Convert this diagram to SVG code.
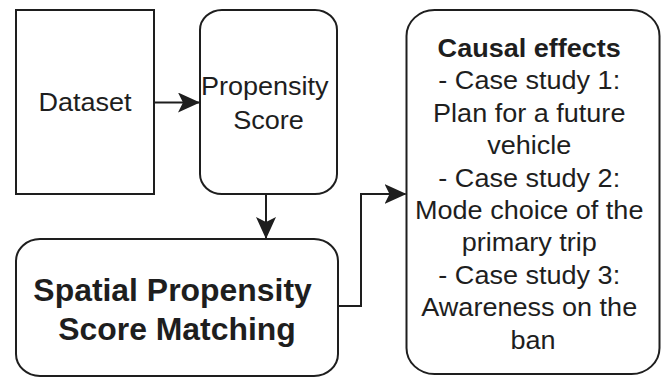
<svg xmlns="http://www.w3.org/2000/svg" width="665" height="378" viewBox="0 0 665 378">
  <style>
    .box { fill: #ffffff; stroke: #1e1e1e; stroke-width: 2; }
    .lbl { font-family: "Liberation Sans", Arial, sans-serif; font-size: 26px; fill: #1e1e1e; text-anchor: middle; }
    .bold { font-weight: bold; }
    .big { font-size: 31px; }
    .edge { fill: none; stroke: #1e1e1e; stroke-width: 2; }
  </style>
  <defs>
    <marker id="arrow" viewBox="0 0 22 20" refX="21" refY="10" markerWidth="22" markerHeight="20" markerUnits="userSpaceOnUse" orient="auto">
      <path d="M0,0 L22,10 L0,20 L5,10 Z" fill="#1e1e1e"/>
    </marker>
  </defs>
  <rect width="665" height="378" fill="#ffffff"/>

  <g id="dataset">
    <rect class="box" x="16" y="10" width="138" height="184"/>
    <text class="lbl" transform="translate(85 111) scale(1.04 1)">Dataset</text>
  </g>

  <g id="propensity-score">
    <rect class="box" x="200" y="10" width="137" height="184" rx="22" ry="20"/>
    <text class="lbl" transform="translate(268.5 95) scale(1.04 1)">
      <tspan x="0" y="0">Propensity</tspan>
      <tspan x="0" y="34">Score</tspan>
    </text>
  </g>

  <g id="spatial-psm">
    <rect class="box" x="16" y="239" width="322" height="137" rx="24" ry="22"/>
    <text class="lbl bold big" transform="translate(177 301) scale(1.03 1)">
      <tspan x="0" y="0">Spatial Propensity</tspan>
      <tspan x="0" y="39">Score Matching</tspan>
    </text>
  </g>

  <g id="causal-effects">
    <rect class="box" x="406.5" y="10" width="253" height="364" rx="28" ry="26"/>
    <text class="lbl" transform="translate(533 57) scale(1.04 1)">
      <tspan class="bold" x="0" y="0">Causal effects</tspan>
      <tspan x="0" y="32.4">- Case study 1:</tspan>
      <tspan x="0" y="64.8">Plan for a future</tspan>
      <tspan x="0" y="97.2">vehicle</tspan>
      <tspan x="0" y="129.6">- Case study 2:</tspan>
      <tspan x="0" y="162">Mode choice of the</tspan>
      <tspan x="0" y="194.4">primary trip</tspan>
      <tspan x="0" y="226.8">- Case study 3:</tspan>
      <tspan x="0" y="259.2">Awareness on the</tspan>
      <tspan x="0" y="291.6">ban</tspan>
    </text>
  </g>

  <g id="connectors">
    <path class="edge" d="M154,102.5 H199" marker-end="url(#arrow)"/>
    <path class="edge" d="M266,194 V238" marker-end="url(#arrow)"/>
    <path class="edge" d="M338,306 H361 V194 H405.5" marker-end="url(#arrow)"/>
  </g>
</svg>
